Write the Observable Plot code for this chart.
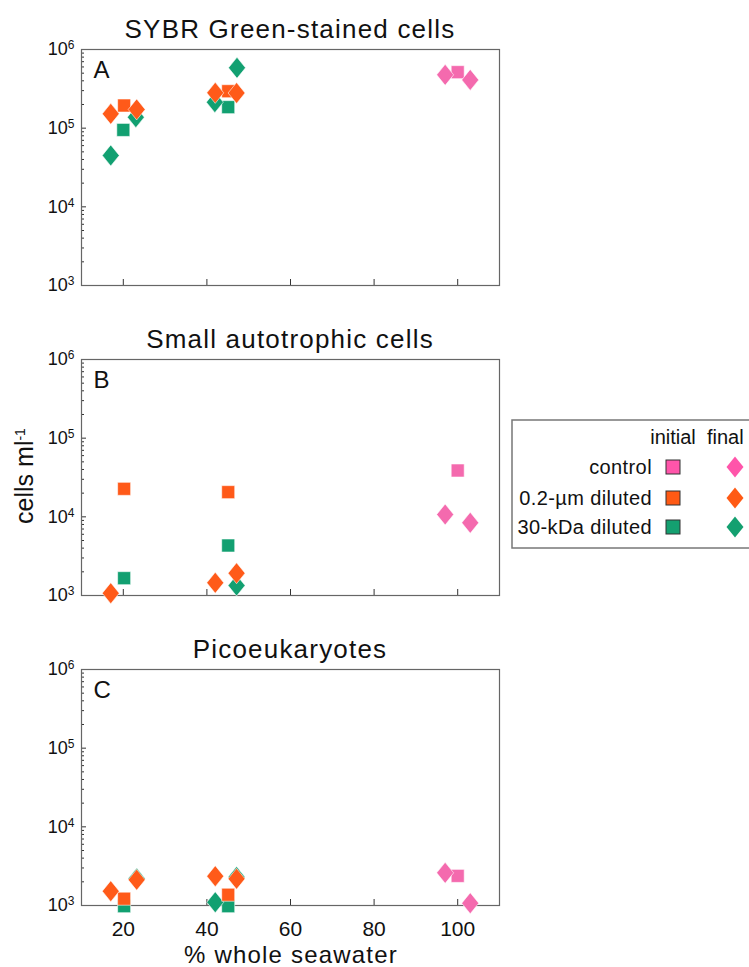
<!DOCTYPE html>
<html><head><meta charset="utf-8">
<script src="https://cdn.jsdelivr.net/npm/d3@7"></script>
<script src="https://cdn.jsdelivr.net/npm/@observablehq/plot@0.6"></script>
<style>
html,body{margin:0;padding:0;background:#fff;}
#page{position:relative;width:749px;height:967px;overflow:hidden;font-family:"Liberation Sans",Arial,sans-serif;}
.panel{position:absolute;left:0;}
#overlay{position:absolute;left:0;top:0;pointer-events:none;}
</style></head><body><div id="page"></div>
<script>
// ---------- data ----------
const treatments = ["control", "0.2-µm diluted", "30-kDa diluted"];
const markColors = {"control": "#f46aae", "0.2-µm diluted": "#ff5a19", "30-kDa diluted": "#12a071"};
const legendColors = {"control": "#ff55aa", "0.2-µm diluted": "#ff5a14", "30-kDa diluted": "#14a070"};
const panelTitles = ["SYBR Green-stained cells", "Small autotrophic cells", "Picoeukaryotes"];
const panelLetters = ["A", "B", "C"];
const xTicks = [20, 40, 60, 80, 100];
const yTicks = [1e3, 1e4, 1e5, 1e6];

// Panel A: SYBR Green-stained cells
const sybrInitial = [
  {treatment: "30-kDa diluted", x: 20.0, cells: 9.5e4},
  {treatment: "30-kDa diluted", x: 45.1, cells: 1.85e5},
  {treatment: "0.2-µm diluted", x: 20.2, cells: 1.94e5},
  {treatment: "0.2-µm diluted", x: 45.1, cells: 2.95e5},
  {treatment: "control", x: 100, cells: 5.15e5}
];
const sybrFinal = [
  {treatment: "30-kDa diluted", x: 17.0, cells: 4.5e4},
  {treatment: "30-kDa diluted", x: 23.0, cells: 1.38e5},
  {treatment: "30-kDa diluted", x: 41.9, cells: 2.14e5},
  {treatment: "30-kDa diluted", x: 47.2, cells: 5.85e5},
  {treatment: "0.2-µm diluted", x: 17.0, cells: 1.52e5},
  {treatment: "0.2-µm diluted", x: 23.2, cells: 1.73e5},
  {treatment: "0.2-µm diluted", x: 42.0, cells: 2.81e5},
  {treatment: "0.2-µm diluted", x: 47.1, cells: 2.8e5},
  {treatment: "control", x: 97.0, cells: 4.76e5},
  {treatment: "control", x: 103.0, cells: 4.11e5}
];
// Panel B: Small autotrophic cells
const autoInitial = [
  {treatment: "30-kDa diluted", x: 20.2, cells: 1.66e3},
  {treatment: "30-kDa diluted", x: 45.1, cells: 4.32e3},
  {treatment: "0.2-µm diluted", x: 20.2, cells: 2.27e4},
  {treatment: "0.2-µm diluted", x: 45.1, cells: 2.06e4},
  {treatment: "control", x: 100, cells: 3.88e4}
];
const autoFinal = [
  {treatment: "30-kDa diluted", x: 47.1, cells: 1.34e3},
  {treatment: "0.2-µm diluted", x: 17.0, cells: 1.07e3},
  {treatment: "0.2-µm diluted", x: 42.0, cells: 1.45e3},
  {treatment: "0.2-µm diluted", x: 47.1, cells: 1.92e3},
  {treatment: "control", x: 97.0, cells: 1.07e4},
  {treatment: "control", x: 103.0, cells: 8.4e3}
];
// Panel C: Picoeukaryotes
const picoInitial = [
  {treatment: "30-kDa diluted", x: 20.2, cells: 0.98e3},
  {treatment: "30-kDa diluted", x: 45.1, cells: 0.98e3},
  {treatment: "0.2-µm diluted", x: 20.2, cells: 1.22e3},
  {treatment: "0.2-µm diluted", x: 45.1, cells: 1.37e3},
  {treatment: "control", x: 100, cells: 2.38e3}
];
const picoFinal = [
  {treatment: "30-kDa diluted", x: 23.2, cells: 2.2e3},
  {treatment: "30-kDa diluted", x: 42.0, cells: 1.1e3},
  {treatment: "30-kDa diluted", x: 47.1, cells: 2.3e3},
  {treatment: "0.2-µm diluted", x: 17.0, cells: 1.52e3},
  {treatment: "0.2-µm diluted", x: 23.2, cells: 2.12e3},
  {treatment: "0.2-µm diluted", x: 42.0, cells: 2.36e3},
  {treatment: "0.2-µm diluted", x: 47.1, cells: 2.18e3},
  {treatment: "control", x: 97.0, cells: 2.6e3},
  {treatment: "control", x: 103.0, cells: 1.07e3}
];

// ---------- symbols ----------
const squareSym = {draw(ctx) { const s = 6.5; ctx.moveTo(-s, -s); ctx.lineTo(s, -s); ctx.lineTo(s, s); ctx.lineTo(-s, s); ctx.closePath(); }};
const diamondSym = {draw(ctx) { const w = 8.5, h = 10.5; ctx.moveTo(0, -h); ctx.lineTo(w, 0); ctx.lineTo(0, h); ctx.lineTo(-w, 0); ctx.closePath(); }};

const minorTicks = [];
for (const e of [3, 4, 5]) for (let m = 2; m <= 9; m++) minorTicks.push(m * Math.pow(10, e));

const FONT = '"Liberation Sans", Arial, sans-serif';
const page = document.getElementById("page");
const drawOrder = ["30-kDa diluted", "0.2-µm diluted", "control"];

function makePanel(initial, final, letter, top, isBottom) {
  const marginTop = 15, inner = 236, marginBottom = isBottom ? 62 : 10;
  const marks = [
    Plot.axisY({ticks: minorTicks, tickSize: -3, tickFormat: () => "", label: null, stroke: "#333"}),
    Plot.axisY({ticks: yTicks, tickSize: -5, tickFormat: () => "", label: null, stroke: "#333"}),
    Plot.axisY({ticks: yTicks, tickSize: 0, tickPadding: 7, label: null,
      tickFormat: d => `10^${Math.round(Math.log10(d))}`}),
    Plot.axisX({ticks: xTicks, tickSize: -6, tickFormat: () => "", label: null, stroke: "#333"}),
  ];
  if (isBottom) marks.push(Plot.axisX({ticks: xTicks, tickSize: 0, tickPadding: 16, label: null, tickFormat: d => `x${d}`}));
  marks.push(Plot.frame({stroke: "#666", strokeWidth: 1.2}));
  for (const t of drawOrder) {
    marks.push(Plot.dot(initial.filter(d => d.treatment === t), {x: "x", y: "cells", r: 6, symbol: squareSym, fill: markColors[t], stroke: "white", strokeWidth: 0.7, strokeOpacity: 0.8}));
    marks.push(Plot.dot(final.filter(d => d.treatment === t), {x: "x", y: "cells", r: 6, symbol: diamondSym, fill: markColors[t], stroke: "white", strokeWidth: 0.7, strokeOpacity: 0.8}));
  }
  marks.push(Plot.text([letter], {text: d => d, frameAnchor: "top-left", dx: 12, dy: 11, lineAnchor: "top", textAnchor: "start", fontSize: 24, fill: "#111"}));
  const svg = Plot.plot({
    width: 520, height: marginTop + inner + marginBottom,
    marginLeft: 81, marginRight: 21, marginTop, marginBottom,
    x: {domain: [10, 110]},
    y: {type: "log", domain: [1e3, 1e6]},
    style: {fontFamily: FONT, color: "#111", background: "transparent", overflow: "visible"},
    marks
  });
  svg.classList.add("panel");
  svg.style.top = `${top - marginTop}px`;
  page.appendChild(svg);
  d3.select(svg).selectAll("text").each(function () {
    const s = this.textContent;
    const t = d3.select(this);
    if (s.includes("^")) {
      // y tick label with superscript exponent
      const [b, e] = s.split("^");
      t.text(null).style("font-size", "18px");
      t.append("tspan").text(b);
      t.append("tspan").attr("dy", "-0.5em").style("font-size", "12px").text(e);
    } else if (s.startsWith("x")) {
      // x tick label
      t.text(s.slice(1)).style("font-size", "21px");
    }
  });
}

makePanel(sybrInitial, sybrFinal, panelLetters[0], 49, false);
makePanel(autoInitial, autoFinal, panelLetters[1], 359, false);
makePanel(picoInitial, picoFinal, panelLetters[2], 669, true);

// ---------- overlay: titles, axis labels, legend ----------
const ov = d3.select(page).append("svg").attr("id", "overlay")
  .attr("width", 749).attr("height", 967).style("font-family", FONT);
const titleY = [38, 348, 658];
panelTitles.forEach((t, i) => {
  ov.append("text").attr("x", 290).attr("y", titleY[i]).attr("text-anchor", "middle")
    .attr("font-size", 26).attr("letter-spacing", "1.2px").attr("fill", "#111").text(t);
});
ov.append("text").attr("x", 291).attr("y", 963).attr("text-anchor", "middle")
  .attr("font-size", 24).attr("letter-spacing", "1.2px").attr("fill", "#111").text("% whole seawater");
const yl = ov.append("text").attr("transform", "translate(33,476) rotate(-90)").attr("text-anchor", "middle")
  .attr("font-size", 25).attr("fill", "#111");
yl.append("tspan").text("cells ml");
yl.append("tspan").attr("dy", "-0.55em").attr("font-size", 14).text("-1");

const lg = ov.append("g").attr("transform", "translate(512,420)");
lg.append("rect").attr("x", 0).attr("y", 0).attr("width", 300).attr("height", 128)
  .attr("fill", "white").attr("stroke", "#777").attr("stroke-width", 1.5);
lg.append("text").attr("x", 161).attr("y", 24).attr("text-anchor", "middle").attr("font-size", 20).attr("fill", "#111").text("initial");
lg.append("text").attr("x", 195).attr("y", 24).attr("text-anchor", "start").attr("font-size", 20).attr("fill", "#111").text("final");
const rowY = [47, 78, 107];
treatments.forEach((t, i) => {
  lg.append("text").attr("x", 140).attr("y", rowY[i] + 7).attr("text-anchor", "end").attr("font-size", 20).attr("letter-spacing", "0.4px").attr("fill", "#111").text(t);
  lg.append("rect").attr("x", 161 - 7).attr("y", rowY[i] - 7).attr("width", 14).attr("height", 14)
    .attr("fill", legendColors[t]).attr("stroke", "#333").attr("stroke-width", 1);
  lg.append("path").attr("d", `M223,${rowY[i] - 10.5}L231.5,${rowY[i]}L223,${rowY[i] + 10.5}L214.5,${rowY[i]}Z`)
    .attr("fill", legendColors[t]);
});
</script></body></html>
